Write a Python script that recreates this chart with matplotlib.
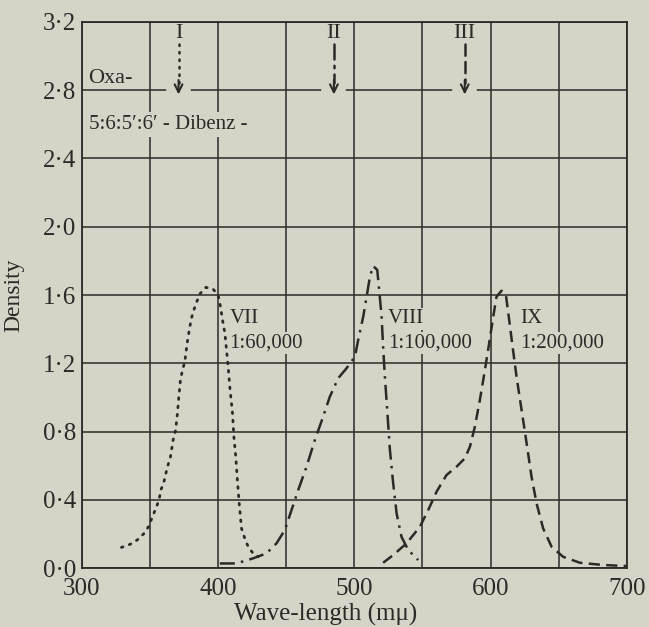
import matplotlib.pyplot as plt
from matplotlib.ticker import FixedLocator, FuncFormatter

# Absorption curves of the three dibenz-oxa dyes
vii_wl = [329.1, 335.7, 341.3, 345.7, 349.4, 351.6, 354.3, 356.7, 358.0, 360.2, 361.7, 363.3,
          365.1, 367.0, 368.8, 370.2, 371.2, 372.4, 373.9, 375.6, 377.3, 379.3, 380.5, 382.2,
          384.2, 386.6, 391.0, 396.4, 400.0, 401.3, 403.7, 405.0, 407.4, 408.6, 410.6, 411.6,
          413.0, 414.0, 415.5, 417.2, 419.6, 422.1, 425.7, 429.4]
vii_d = [0.121, 0.140, 0.168, 0.203, 0.248, 0.297, 0.348, 0.399, 0.457, 0.502, 0.555, 0.604,
         0.652, 0.750, 0.805, 0.907, 1.004, 1.102, 1.160, 1.209, 1.317, 1.415, 1.464, 1.512,
         1.557, 1.606, 1.645, 1.634, 1.600, 1.552, 1.434, 1.376, 1.180, 1.063, 0.907, 0.770,
         0.652, 0.535, 0.379, 0.233, 0.174, 0.125, 0.086, 0.066]

viii_wl = [401.3, 413.5, 425.7, 435.5, 442.9, 449.0, 453.9, 458.8, 464.9, 471.0, 477.1, 482.0,
           488.1, 494.3, 500.4, 502.8, 506.5, 509.0, 511.4, 513.8, 516.8, 518.2, 520.0, 521.1,
           522.4, 524.1, 526.1, 528.5, 531.0, 534.6, 539.5, 546.8]
viii_d = [0.027, 0.027, 0.057, 0.086, 0.145, 0.223, 0.340, 0.457, 0.594, 0.750, 0.887, 1.004,
          1.112, 1.171, 1.239, 1.336, 1.473, 1.590, 1.707, 1.770, 1.747, 1.630, 1.473, 1.297,
          1.121, 0.926, 0.692, 0.496, 0.320, 0.183, 0.106, 0.047]

ix_wl = [521.1, 528.5, 538.3, 548.1, 554.2, 560.3, 567.6, 575.0, 581.1, 584.8, 588.4, 592.1,
         595.8, 598.9, 601.9, 604.3, 608.0, 611.2, 613.6, 616.1, 619.0, 622.7, 626.4, 630.0,
         633.7, 638.5, 644.7, 653.2, 665.5, 682.6, 699.7]
ix_d = [0.031, 0.076, 0.145, 0.242, 0.340, 0.447, 0.545, 0.594, 0.643, 0.711, 0.828, 0.985,
        1.161, 1.317, 1.473, 1.590, 1.625, 1.600, 1.454, 1.297, 1.121, 0.926, 0.731, 0.535,
        0.379, 0.233, 0.125, 0.066, 0.031, 0.018, 0.012]

# Band positions marked by arrows at the top
arrow_wl = [371, 485, 581]
arrow_names = ["I", "II", "III"]

curve_names = ["VII", "VIII", "IX"]
dilutions = ["1:60,000", "1:100,000", "1:200,000"]
label_wl = [408.5, 524.5, 621.5]

paper = "#d6d4c7"
ink = "#2b2a27"

plt.rcParams["font.family"] = ["Liberation Serif", "DejaVu Serif"]

fig = plt.figure(figsize=(6.49, 6.27), dpi=100, facecolor=paper)
ax = fig.add_axes([0.126, 0.094, 0.840, 0.871], facecolor=paper)

styles = [(0, (0.6, 2.4)), (0, (6, 2.5, 1, 2.5)), (0, (4.5, 2.5))]
caps = ["round", "butt", "butt"]
for wl, d, ls, cap in zip([vii_wl, viii_wl, ix_wl], [vii_d, viii_d, ix_d], styles, caps):
    ax.plot(wl, d, color=ink, lw=2.0 if cap == "round" else 1.8, ls=ls,
            dash_capstyle=cap, zorder=3)

box = dict(facecolor=paper, edgecolor="none", pad=1)
for name, dil, x in zip(curve_names, dilutions, label_wl):
    ax.text(x, 1.46, name, fontsize=15, color=ink, va="center", ha="left", bbox=box, zorder=2)
    ax.text(x, 1.32, dil, fontsize=15, color=ink, va="center", ha="left", bbox=box, zorder=2)

for x, name, ls in zip(arrow_wl, arrow_names, styles):
    ax.text(x, 3.13, name, fontsize=16, color=ink, ha="center", va="center", zorder=3)
    ax.plot([x, x], [3.07, 2.84], color=ink, lw=1.8, ls=ls, dash_capstyle="round", zorder=3)
    ax.plot([x - 7, x + 7], [2.8, 2.8], color=paper, lw=4, zorder=1)
    ax.annotate("", xy=(x, 2.775), xytext=(x, 2.86),
                arrowprops=dict(arrowstyle="->", color=ink, lw=1.5,
                                mutation_scale=14, shrinkA=0, shrinkB=0),
                zorder=3)

ax.text(305, 2.87, "Oxa-", fontsize=16, color=ink, va="center", ha="left", zorder=2)
ax.text(305, 2.6, "5:6:5\u2032:6\u2032 - Dibenz -", fontsize=15, color=ink, va="center", ha="left",
        bbox=dict(facecolor=paper, edgecolor="none", pad=2), zorder=2)

ax.set_xlim(300, 700)
ax.set_ylim(0, 3.2)
ax.xaxis.set_major_locator(FixedLocator([300, 400, 500, 600, 700]))
ax.xaxis.set_minor_locator(FixedLocator([350, 450, 550, 650]))
ax.yaxis.set_major_locator(FixedLocator([0.4 * i for i in range(9)]))
ax.yaxis.set_major_formatter(FuncFormatter(lambda v, p: f"{v:.1f}".replace(".", "\u00b7")))

ax.set_axisbelow(True)
ax.grid(which="both", color=ink, lw=1.1)
ax.tick_params(which="both", length=0, labelsize=18, colors=ink)
ax.tick_params(axis="x", pad=7)
ax.tick_params(axis="y", pad=4)
for s in ax.spines.values():
    s.set_color(ink)
    s.set_linewidth(1.3)

ax.set_xlabel("Wave-length (m\u03bc)", fontsize=18, color=ink)
ax.set_ylabel("Density", fontsize=17, color=ink)
ax.xaxis.set_label_coords(0.448, -0.064)
ax.yaxis.set_label_coords(-0.105, 0.5)

fig.savefig("out.png", dpi=100, facecolor=paper)
